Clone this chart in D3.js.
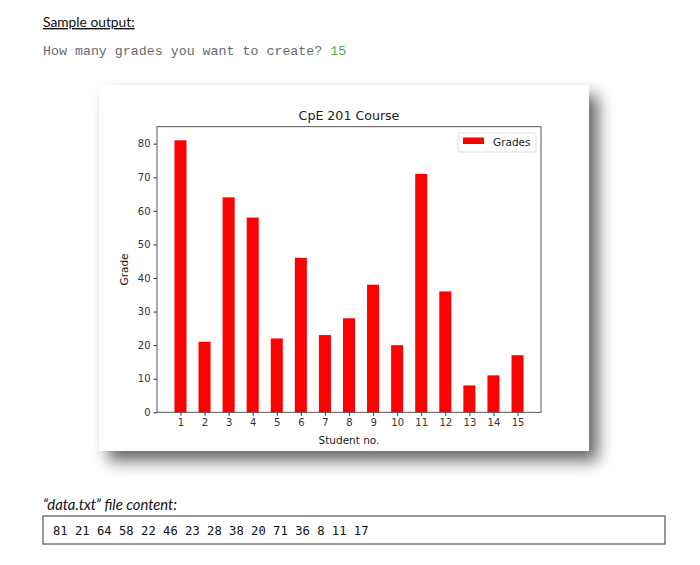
<!DOCTYPE html>
<html><head><meta charset="utf-8">
<script src="https://cdn.jsdelivr.net/npm/d3@7"></script>
<style>body{margin:0;background:#fff;overflow:hidden}</style>
</head><body>
<svg id="c" width="700" height="565"></svg>
<script>
const students = [1,2,3,4,5,6,7,8,9,10,11,12,13,14,15];
const grades = [81,21,64,58,22,46,23,28,38,20,71,36,8,11,17];
const yTicks = [0,10,20,30,40,50,60,70,80];
const chartTitle = "CpE 201 Course";
const xLabel = "Student no.";
const yLabel = "Grade";
const legendLabel = "Grades";
const promptText = "How many grades you want to create? ";
const promptAnswer = "15";
const fileContent = grades.join(" ");

const svg = d3.select("#c");
const defs = svg.append("defs");
const f = defs.append("filter").attr("id","sh").attr("x","-10%").attr("y","-10%").attr("width","130%").attr("height","135%");
f.append("feGaussianBlur").attr("in","SourceAlpha").attr("stdDeviation",8).attr("result","b");
f.append("feOffset").attr("in","b").attr("dx",9).attr("dy",10).attr("result","o");
f.append("feComponentTransfer").attr("in","o").attr("result","o2")
  .append("feFuncA").attr("type","linear").attr("slope",0.6);
const m = f.append("feMerge");
m.append("feMergeNode").attr("in","o2");
m.append("feMergeNode").attr("in","SourceGraphic");

// Document text
svg.append("text").attr("x",43).attr("y",27)
  .style("font-family","Lato, 'Open Sans', sans-serif").style("font-size","13.8px")
  .style("text-decoration","underline").attr("fill","#111").text("Sample output:");
const pt = svg.append("text").attr("x",43).attr("y",55)
  .style("font-family","'Liberation Mono', monospace").style("font-size","13.3px").attr("fill","#6a6a6a");
pt.append("tspan").text(promptText);
pt.append("tspan").attr("fill","#5aa84a").text(promptAnswer);

// Figure
svg.append("rect").attr("x",99).attr("y",85).attr("width",490).attr("height",366)
  .attr("fill","#fff").attr("filter","url(#sh)");

const x = d3.scaleLinear().domain([0.025,15.975]).range([157,541]);
const y = d3.scaleLinear().domain([0,85.05]).range([412.3,126.7]);

const g = svg.append("g");
g.selectAll("rect.bar").data(grades).join("rect").attr("class","bar")
  .attr("x",(d,i)=>x(students[i]-0.25))
  .attr("width",(d,i)=>x(students[i]+0.25)-x(students[i]-0.25))
  .attr("y",d=>y(d)).attr("height",d=>y(0)-y(d)).attr("fill","#ff0000");

const fontChart = "'DejaVu Sans', sans-serif";
const yAxis = g.append("g").attr("transform",`translate(${x(0.025)},0)`)
  .call(d3.axisLeft(y).tickValues(yTicks).tickSize(3.5).tickPadding(3).tickSizeOuter(0));
const xAxis = g.append("g").attr("transform",`translate(0,${y(0)})`)
  .call(d3.axisBottom(x).tickValues(students).tickFormat(d3.format("d")).tickSize(3.5).tickPadding(3).tickSizeOuter(0));
[yAxis,xAxis].forEach(a=>{
  a.select(".domain").remove();
  a.selectAll("line").attr("stroke","#333");
  a.selectAll("text").style("font-family",fontChart).style("font-size","10px").attr("fill","#333");
});
g.append("rect").attr("x",x(0.025)).attr("y",y(85.05))
  .attr("width",x(15.975)-x(0.025)).attr("height",y(0)-y(85.05))
  .attr("fill","none").attr("stroke","#444").attr("stroke-width",0.9);

g.append("text").attr("x",(x(0.025)+x(15.975))/2).attr("y",119.5).attr("text-anchor","middle")
  .style("font-family",fontChart).style("font-size","12.6px").attr("fill","#222").text(chartTitle);
g.append("text").attr("x",(x(0.025)+x(15.975))/2).attr("y",443.5).attr("text-anchor","middle")
  .style("font-family",fontChart).style("font-size","10.5px").attr("fill","#222").text(xLabel);
g.append("text").attr("transform",`translate(128,${(y(0)+y(85.05))/2}) rotate(-90)`).attr("text-anchor","middle")
  .style("font-family",fontChart).style("font-size","10.5px").attr("fill","#222").text(yLabel);

// Legend
const lg = g.append("g");
lg.append("rect").attr("x",458).attr("y",133).attr("width",78).attr("height",19).attr("rx",2)
  .attr("fill","#fff").attr("fill-opacity",0.8).attr("stroke","#d5d5d5").attr("stroke-width",0.8);
lg.append("rect").attr("x",463).attr("y",137.5).attr("width",21).attr("height",6.5).attr("fill","#ff0000");
lg.append("text").attr("x",493).attr("y",145.5).style("font-family",fontChart).style("font-size","10.5px")
  .attr("fill","#222").text(legendLabel);

// Data file section
svg.append("text").attr("x",43).attr("y",510)
  .style("font-family","Lato, 'Open Sans', sans-serif").style("font-size","14.8px").style("font-style","italic")
  .attr("fill","#111").text("\u201Cdata.txt\u201D file content:");
svg.append("rect").attr("x",43).attr("y",516).attr("width",622).attr("height",28)
  .attr("fill","#fff").attr("stroke","#555").attr("stroke-width",1.2);
svg.append("text").attr("x",53).attr("y",535)
  .style("font-family","'DejaVu Sans Mono', monospace").style("font-size","12.2px")
  .attr("fill","#111").text(fileContent);
</script>
</body></html>
